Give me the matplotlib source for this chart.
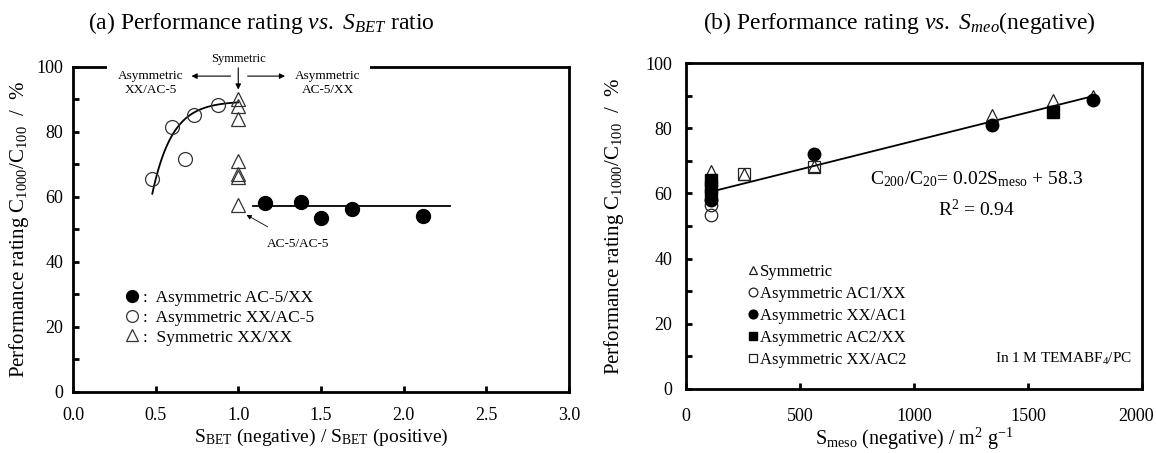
import numpy as np
import matplotlib
matplotlib.use('Agg')
import matplotlib.pyplot as plt
import matplotlib.transforms as mtransforms
from matplotlib.patches import Rectangle

plt.rcParams['font.family'] = ['Liberation Serif', 'DejaVu Serif']
plt.rcParams['mathtext.fontset'] = 'custom'
plt.rcParams['mathtext.rm'] = 'Liberation Serif'
plt.rcParams['mathtext.it'] = 'Liberation Serif:italic'
plt.rcParams['mathtext.bf'] = 'Liberation Serif:bold'

# ---- panel (a): performance vs S_BET ratio ----
ac5xx_x = [1.16, 1.38, 1.50, 1.69, 2.12]
ac5xx_y = [58.2, 58.4, 53.5, 56.3, 54.2]
xxac5_x = [0.48, 0.60, 0.68, 0.73, 0.88]
xxac5_y = [65.4, 81.6, 71.6, 85.1, 88.3]
sym_a_x = [1.0, 1.0, 1.0, 1.0, 1.0, 1.0, 1.0]
sym_a_y = [90, 88, 84, 71, 67, 66, 57.5]

# saturation fit drawn through XX/AC-5 points: y = top - amp*exp(-k*(x-x0))
curve_top, curve_amp, curve_k, curve_x0, curve_x1 = 89.5, 28.5, 8.3, 0.48, 1.0
flat_level, flat_x0, flat_x1 = 57.1, 1.09, 2.28

# ---- panel (b): performance vs S_meso ----
sym_b_x = [110, 255, 560, 1340, 1610, 1785]
sym_b_y = [67, 66, 68.5, 84, 88.5, 90]
ac1xx_x = [110, 110]
ac1xx_y = [56.5, 53.5]
xxac1_x = [110, 560, 1340, 1785]
xxac1_y = [58, 72, 81, 88.8]
ac2xx_x = [110, 110, 110, 1610]
ac2xx_y = [64, 62, 59.5, 85]
xxac2_x = [255, 560]
xxac2_y = [66, 68]

fit_slope, fit_icpt, fit_x0, fit_x1 = 0.0175, 58.6, 110, 1790


def style_axes(ax, xpad):
	for s in ax.spines.values():
		s.set_linewidth(2)
	ax.tick_params(direction='in', length=4, width=2, labelsize=13,
				   top=False, right=False)
	ax.tick_params(axis='x', pad=xpad)
	ax.tick_params(axis='y', pad=7)


fig = plt.figure(figsize=(11.56, 4.53), dpi=100)
ax1 = fig.add_axes([0.0631, 0.1347, 0.429, 0.7174])
ax2 = fig.add_axes([0.5934, 0.1413, 0.3945, 0.7196])

# panel (a)
xc = np.linspace(curve_x0, curve_x1, 60)
ax1.plot(xc, curve_top - curve_amp * np.exp(-curve_k * (xc - curve_x0)), color='black', lw=1.3)
ax1.plot([flat_x0, flat_x1], [flat_level, flat_level], color='black', lw=1.3)

ax1.plot(ac5xx_x, ac5xx_y, 'o', ms=10, color='black', label=':  Asymmetric AC-5/XX', zorder=5)
ax1.plot(xxac5_x, xxac5_y, 'o', ms=10, mfc='none', mec='#333333', mew=0.9,
		 label=':  Asymmetric XX/AC-5', zorder=5)
ax1.plot(sym_a_x, sym_a_y, '^', ms=10, mfc='none', mec='#333333', mew=0.9,
		 label=':  Symmetric XX/XX', zorder=5)

ax1.set_xlim(0, 3)
ax1.set_ylim(0, 100)
ax1.set_xticks(np.arange(0, 3.01, 0.5))
ax1.set_xticklabels(['0.0', '0.5', '1.0', '1.5', '2.0', '2.5', '3.0'])
ax1.set_yticks(np.arange(0, 101, 20))
ax1.set_yticks(np.arange(10, 100, 20), minor=True)
ax1.tick_params(which='minor', direction='in', length=4, width=2)
style_axes(ax1, 11)
ax1.set_xlabel('S$_{\\rm BET}$ (negative) / S$_{\\rm BET}$ (positive)', fontsize=14, labelpad=2)
ax1.set_ylabel('Performance rating C$_{1000}$/C$_{100}$  /  %', fontsize=15, labelpad=4)

# gap in the top frame behind the annotations
ax1.add_patch(Rectangle((0.205, 98.6), 1.595, 3.0, facecolor='white', edgecolor='none',
						clip_on=False, zorder=3))
ax1.text(1.0, 102.4, 'Symmetric', ha='center', va='center', fontsize=9, zorder=6, clip_on=False)
ax1.annotate('', xy=(1.0, 92.2), xytext=(1.0, 100.6),
			 arrowprops=dict(arrowstyle='-|>', color='black', lw=0.8, mutation_scale=8),
			 zorder=6, annotation_clip=False)
ax1.annotate('', xy=(0.70, 97.2), xytext=(0.97, 97.2),
			 arrowprops=dict(arrowstyle='-|>', color='black', lw=0.8, mutation_scale=8), zorder=6)
ax1.annotate('', xy=(1.30, 97.2), xytext=(1.04, 97.2),
			 arrowprops=dict(arrowstyle='-|>', color='black', lw=0.8, mutation_scale=8), zorder=6)
ax1.text(0.47, 97.2, 'Asymmetric', ha='center', va='center', fontsize=9.5, zorder=6)
ax1.text(0.47, 92.8, 'XX/AC-5', ha='center', va='center', fontsize=9.5, zorder=6)
ax1.text(1.54, 97.2, 'Asymmetric', ha='center', va='center', fontsize=9.5, zorder=6)
ax1.text(1.54, 92.8, 'AC-5/XX', ha='center', va='center', fontsize=9.5, zorder=6)
ax1.annotate('AC-5/AC-5', xy=(1.05, 54.5), xytext=(1.36, 45.6), ha='center', va='center',
			 fontsize=9.5,
			 arrowprops=dict(arrowstyle='-|>', color='black', lw=0.6, mutation_scale=7,
							 shrinkA=12, shrinkB=0))

ax1.legend(loc='upper left', bbox_to_anchor=(0.085, 0.34), frameon=False, fontsize=12.5,
		   handlelength=0.9, handletextpad=0.2, labelspacing=0.2, borderpad=0,
		   markerscale=0.85)

# panel (b)
xf = np.array([fit_x0, fit_x1])
ax2.plot(xf, fit_slope * xf + fit_icpt, color='black', lw=1.3)

ax2.plot(sym_b_x, sym_b_y, '^', ms=9, mfc='none', mec='#222222', mew=0.9, label='Symmetric', zorder=5)
ax2.plot(ac1xx_x, ac1xx_y, 'o', ms=9, mfc='none', mec='#222222', mew=0.9,
		 label='Asymmetric AC1/XX', zorder=5)
ax2.plot(xxac1_x, xxac1_y, 'o', ms=9, color='black', label='Asymmetric XX/AC1', zorder=5)
ax2.plot(ac2xx_x, ac2xx_y, 's', ms=8.5, color='black', label='Asymmetric AC2/XX', zorder=5)
ax2.plot(xxac2_x, xxac2_y, 's', ms=9, mfc='none', mec='#222222', mew=0.9,
		 label='Asymmetric XX/AC2', zorder=5)

ax2.set_xlim(0, 2000)
ax2.set_ylim(0, 100)
ax2.set_xticks([0, 500, 1000, 1500, 2000])
ax2.set_yticks(np.arange(0, 101, 20))
ax2.set_yticks(np.arange(10, 100, 20), minor=True)
ax2.tick_params(which='minor', direction='in', length=4, width=2)
style_axes(ax2, 14)
ax2.tick_params(axis='y', pad=10)
# nudge the last x label so it stays inside the figure edge
last = ax2.get_xticklabels()[-1]
last.set_transform(last.get_transform() + mtransforms.ScaledTranslation(-4 / 72, 0, fig.dpi_scale_trans))
ax2.set_xlabel('S$_{\\rm meso}$ (negative) / m$^2$ g$^{-1}$', fontsize=14.5, labelpad=0)
ax2.set_ylabel('Performance rating C$_{1000}$/C$_{100}$  /  %', fontsize=15, labelpad=14)

ax2.text(1274, 64.4, 'C$_{200}$/C$_{20}$= 0.02S$_{\\rm meso}$ + 58.3', ha='center', va='center',
		 fontsize=14)
ax2.text(1274, 55.2, 'R$^2$ = 0.94', ha='center', va='center', fontsize=14)
ax2.text(1955, 9.3, 'In 1 M TEMABF$_4$/PC', ha='right', va='center', fontsize=11)

ax2.legend(loc='upper left', bbox_to_anchor=(0.115, 0.41), frameon=False, fontsize=12,
		   handlelength=0.7, handletextpad=0.1, labelspacing=0.36, borderpad=0,
		   markerscale=0.7)

fig.text(88 / 1156, 1 - 23 / 453, '(a) Performance rating $vs.$ $S_{BET}$ ratio',
		 ha='left', va='center', fontsize=17)
fig.text(703 / 1156, 1 - 23 / 453, '(b) Performance rating $vs.$ $S_{meo}$(negative)',
		 ha='left', va='center', fontsize=17)

fig.savefig('out.png', dpi=100)
